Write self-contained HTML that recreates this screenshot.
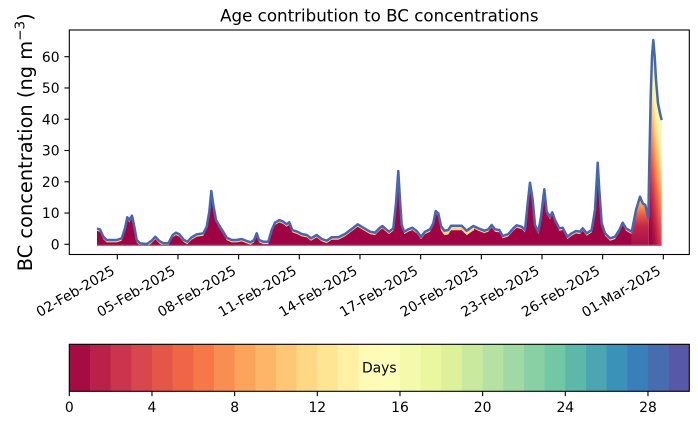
<!DOCTYPE html>
<html><head><meta charset="utf-8"><style>html,body{margin:0;padding:0;background:#fff;}svg{display:block;}</style></head>
<body>
<svg width="698" height="425" viewBox="0 0 698 425" xmlns="http://www.w3.org/2000/svg" font-family="'DejaVu Sans','Liberation Sans',sans-serif">
<defs>
<clipPath id="ca"><path d="M97,228.5 L100,229.5 L103.3,236.7 L106.7,240 L116.7,240 L121.7,238.3 L125,228.3 L127.3,217.3 L129.3,220 L132,215.7 L134,225 L136.7,240 L140,243.3 L146.7,244 L151.7,240.7 L155.3,236.7 L159,240.7 L163.3,243.3 L168.3,243.3 L172.7,235 L176,232.7 L179.3,234.3 L184,240 L187.3,241.7 L191.7,237.3 L196.7,234.3 L203.3,233.3 L206.7,226.7 L209.3,211.7 L211.3,191 L213.3,205 L216,220 L219.3,225.7 L222.7,231 L226.7,237.7 L231.7,240 L236.7,240 L241.7,239 L246.7,241 L250.7,242.3 L254,240 L256.7,233.3 L259,240 L263.3,241.7 L268.3,241.7 L271.7,230 L275,222.7 L279.3,220 L283.3,221.7 L286.7,224.3 L289.3,222.3 L292.3,230 L297.3,231.7 L301.7,234 L306.7,235 L311,238.3 L316.7,235 L321.7,239 L326.7,240.7 L331.7,237.3 L338.3,237.3 L345,234 L351.7,229 L357.7,224.3 L363.3,227.7 L370,231.7 L375,232.7 L379.3,228.3 L382.3,226 L385,228.3 L389,231.7 L393.3,228.3 L396,203.3 L398.3,171 L400,200 L401.7,225 L404.3,231.7 L408.3,229.3 L412.3,227.7 L416.7,231 L421,236.7 L425,231.7 L430,229.3 L433.3,223.3 L435.7,211 L438.3,213.3 L441,226 L444.3,230.7 L448.3,230 L451,225.7 L456.7,225.7 L461.7,225.7 L466.7,230.7 L473.3,226 L478.3,228.3 L484.3,230.7 L488.3,229.3 L491.7,225 L495,229.3 L499.3,230 L502.7,236 L508.3,234 L513.3,228.3 L516.7,225.3 L521.7,226.7 L525,230 L527.7,203.3 L530,182.7 L532.7,200 L535,225 L538.3,231.7 L541,216.7 L544.3,189.3 L546.7,211.7 L550,216.7 L552.3,212.3 L555,220 L559.3,228.3 L562.7,227.7 L567.3,236.7 L571.7,233.3 L576,231 L580,231.7 L582.7,228.3 L586.7,233.3 L591.7,230 L595,210 L597.7,162.7 L599.3,190 L601.7,223.3 L605,233.3 L610,238.3 L615,236.7 L619.3,230 L622.7,222.7 L626,228.3 L631.7,231.7 L636,210 L640,196.7 L642.7,203.3 L645.3,205 L648.3,218.3 L649.3,163.3 L650.7,96.7 L652,56.7 L653.3,40 L654.7,56.7 L656,80 L658,103.3 L660,113.3 L661.7,120 L661.7,245 L97,245 Z"/></clipPath>
<clipPath id="rn"><rect x="90" y="0" width="350" height="300"/><rect x="474" y="0" width="158" height="300"/></clipPath>
<clipPath id="rw"><rect x="440" y="0" width="34" height="300"/></clipPath>
<linearGradient id="gb" gradientUnits="userSpaceOnUse" x1="0" y1="245" x2="0" y2="197">
<stop offset="0" stop-color="#a80f46"/><stop offset="0.4" stop-color="#c32849"/><stop offset="0.65" stop-color="#ec6444"/><stop offset="0.85" stop-color="#fba85e"/><stop offset="1" stop-color="#fee08f"/>
</linearGradient>
<linearGradient id="gs" gradientUnits="userSpaceOnUse" x1="650" y1="235" x2="671.9" y2="232.1">
<stop offset="0" stop-color="#9e0142"/><stop offset="0.2" stop-color="#b01446"/><stop offset="0.38" stop-color="#d0354d"/><stop offset="0.55" stop-color="#ee6445"/><stop offset="0.7" stop-color="#fa9856"/><stop offset="0.85" stop-color="#fdcf7c"/><stop offset="1" stop-color="#f5f7b0"/>
</linearGradient>
<path id="ar" d="M97,228.5 L100,229.5 L103.3,236.7 L106.7,240 L116.7,240 L121.7,238.3 L125,228.3 L127.3,217.3 L129.3,220 L132,215.7 L134,225 L136.7,240 L140,243.3 L146.7,244 L151.7,240.7 L155.3,236.7 L159,240.7 L163.3,243.3 L168.3,243.3 L172.7,235 L176,232.7 L179.3,234.3 L184,240 L187.3,241.7 L191.7,237.3 L196.7,234.3 L203.3,233.3 L206.7,226.7 L209.3,211.7 L211.3,191 L213.3,205 L216,220 L219.3,225.7 L222.7,231 L226.7,237.7 L231.7,240 L236.7,240 L241.7,239 L246.7,241 L250.7,242.3 L254,240 L256.7,233.3 L259,240 L263.3,241.7 L268.3,241.7 L271.7,230 L275,222.7 L279.3,220 L283.3,221.7 L286.7,224.3 L289.3,222.3 L292.3,230 L297.3,231.7 L301.7,234 L306.7,235 L311,238.3 L316.7,235 L321.7,239 L326.7,240.7 L331.7,237.3 L338.3,237.3 L345,234 L351.7,229 L357.7,224.3 L363.3,227.7 L370,231.7 L375,232.7 L379.3,228.3 L382.3,226 L385,228.3 L389,231.7 L393.3,228.3 L396,203.3 L398.3,171 L400,200 L401.7,225 L404.3,231.7 L408.3,229.3 L412.3,227.7 L416.7,231 L421,236.7 L425,231.7 L430,229.3 L433.3,223.3 L435.7,211 L438.3,213.3 L441,226 L444.3,230.7 L448.3,230 L451,225.7 L456.7,225.7 L461.7,225.7 L466.7,230.7 L473.3,226 L478.3,228.3 L484.3,230.7 L488.3,229.3 L491.7,225 L495,229.3 L499.3,230 L502.7,236 L508.3,234 L513.3,228.3 L516.7,225.3 L521.7,226.7 L525,230 L527.7,203.3 L530,182.7 L532.7,200 L535,225 L538.3,231.7 L541,216.7 L544.3,189.3 L546.7,211.7 L550,216.7 L552.3,212.3 L555,220 L559.3,228.3 L562.7,227.7 L567.3,236.7 L571.7,233.3 L576,231 L580,231.7 L582.7,228.3 L586.7,233.3 L591.7,230 L595,210 L597.7,162.7 L599.3,190 L601.7,223.3 L605,233.3 L610,238.3 L615,236.7 L619.3,230 L622.7,222.7 L626,228.3 L631.7,231.7 L636,210 L640,196.7 L642.7,203.3 L645.3,205 L648.3,218.3 L649.3,163.3 L650.7,96.7 L652,56.7 L653.3,40 L654.7,56.7 L656,80 L658,103.3 L660,113.3 L661.7,120 L661.7,250 L97,250 Z"/>
</defs>
<rect x="0" y="0" width="698" height="425" fill="#fff"/>

<g clip-path="url(#ca)">
  <rect x="95" y="30" width="540" height="220" fill="#fdd587"/>
  <use href="#ar" fill="#a00343" transform="translate(0,2.4)" clip-path="url(#rn)"/>
  <use href="#ar" fill="#a00343" transform="translate(0,4.5)" clip-path="url(#rw)"/>
  <rect x="631.5" y="30" width="17.3" height="220" fill="url(#gb)"/>
  <rect x="648.8" y="30" width="14" height="220" fill="url(#gs)"/>
</g>
<line x1="97" y1="245.4" x2="661.7" y2="245.4" stroke="#cc5a82" stroke-width="1.2"/>
<path d="M97,228.5 L100,229.5 L103.3,236.7 L106.7,240 L116.7,240 L121.7,238.3 L125,228.3 L127.3,217.3 L129.3,220 L132,215.7 L134,225 L136.7,240 L140,243.3 L146.7,244 L151.7,240.7 L155.3,236.7 L159,240.7 L163.3,243.3 L168.3,243.3 L172.7,235 L176,232.7 L179.3,234.3 L184,240 L187.3,241.7 L191.7,237.3 L196.7,234.3 L203.3,233.3 L206.7,226.7 L209.3,211.7 L211.3,191 L213.3,205 L216,220 L219.3,225.7 L222.7,231 L226.7,237.7 L231.7,240 L236.7,240 L241.7,239 L246.7,241 L250.7,242.3 L254,240 L256.7,233.3 L259,240 L263.3,241.7 L268.3,241.7 L271.7,230 L275,222.7 L279.3,220 L283.3,221.7 L286.7,224.3 L289.3,222.3 L292.3,230 L297.3,231.7 L301.7,234 L306.7,235 L311,238.3 L316.7,235 L321.7,239 L326.7,240.7 L331.7,237.3 L338.3,237.3 L345,234 L351.7,229 L357.7,224.3 L363.3,227.7 L370,231.7 L375,232.7 L379.3,228.3 L382.3,226 L385,228.3 L389,231.7 L393.3,228.3 L396,203.3 L398.3,171 L400,200 L401.7,225 L404.3,231.7 L408.3,229.3 L412.3,227.7 L416.7,231 L421,236.7 L425,231.7 L430,229.3 L433.3,223.3 L435.7,211 L438.3,213.3 L441,226 L444.3,230.7 L448.3,230 L451,225.7 L456.7,225.7 L461.7,225.7 L466.7,230.7 L473.3,226 L478.3,228.3 L484.3,230.7 L488.3,229.3 L491.7,225 L495,229.3 L499.3,230 L502.7,236 L508.3,234 L513.3,228.3 L516.7,225.3 L521.7,226.7 L525,230 L527.7,203.3 L530,182.7 L532.7,200 L535,225 L538.3,231.7 L541,216.7 L544.3,189.3 L546.7,211.7 L550,216.7 L552.3,212.3 L555,220 L559.3,228.3 L562.7,227.7 L567.3,236.7 L571.7,233.3 L576,231 L580,231.7 L582.7,228.3 L586.7,233.3 L591.7,230 L595,210 L597.7,162.7 L599.3,190 L601.7,223.3 L605,233.3 L610,238.3 L615,236.7 L619.3,230 L622.7,222.7 L626,228.3 L631.7,231.7 L636,210 L640,196.7 L642.7,203.3 L645.3,205 L648.3,218.3 L649.3,163.3 L650.7,96.7 L652,56.7 L653.3,40 L654.7,56.7 L656,80 L658,103.3 L660,113.3 L661.7,120" fill="none" stroke="#4866ad" stroke-width="2.5" stroke-linejoin="round" stroke-linecap="butt"/>

<rect x="69.3" y="30" width="620" height="224.5" fill="none" stroke="#000" stroke-width="1.1"/>

<g stroke="#000" stroke-width="1.1">
<line x1="64.4" y1="244.3" x2="69.3" y2="244.3"/>
<line x1="64.4" y1="213.03" x2="69.3" y2="213.03"/>
<line x1="64.4" y1="181.77" x2="69.3" y2="181.77"/>
<line x1="64.4" y1="150.5" x2="69.3" y2="150.5"/>
<line x1="64.4" y1="119.23" x2="69.3" y2="119.23"/>
<line x1="64.4" y1="87.97" x2="69.3" y2="87.97"/>
<line x1="64.4" y1="56.7" x2="69.3" y2="56.7"/>
</g>
<g font-size="13.9" text-anchor="end" fill="#000">
<text x="59.6" y="249.4">0</text>
<text x="59.6" y="218.1">10</text>
<text x="59.6" y="186.9">20</text>
<text x="59.6" y="155.6">30</text>
<text x="59.6" y="124.3">40</text>
<text x="59.6" y="93.1">50</text>
<text x="59.6" y="61.8">60</text>
</g>

<g stroke="#000" stroke-width="1.1">
<line x1="117.3" y1="254.5" x2="117.3" y2="259.4"/>
<line x1="177.97" y1="254.5" x2="177.97" y2="259.4"/>
<line x1="238.64" y1="254.5" x2="238.64" y2="259.4"/>
<line x1="299.31" y1="254.5" x2="299.31" y2="259.4"/>
<line x1="359.98" y1="254.5" x2="359.98" y2="259.4"/>
<line x1="420.65" y1="254.5" x2="420.65" y2="259.4"/>
<line x1="481.32" y1="254.5" x2="481.32" y2="259.4"/>
<line x1="541.99" y1="254.5" x2="541.99" y2="259.4"/>
<line x1="602.66" y1="254.5" x2="602.66" y2="259.4"/>
<line x1="663.33" y1="254.5" x2="663.33" y2="259.4"/>
</g>
<g font-size="13.9" text-anchor="end" fill="#000">
<text transform="translate(115.7,273.4) rotate(-30)">02-Feb-2025</text>
<text transform="translate(176.37,273.4) rotate(-30)">05-Feb-2025</text>
<text transform="translate(237.04,273.4) rotate(-30)">08-Feb-2025</text>
<text transform="translate(297.71,273.4) rotate(-30)">11-Feb-2025</text>
<text transform="translate(358.38,273.4) rotate(-30)">14-Feb-2025</text>
<text transform="translate(419.05,273.4) rotate(-30)">17-Feb-2025</text>
<text transform="translate(479.72,273.4) rotate(-30)">20-Feb-2025</text>
<text transform="translate(540.39,273.4) rotate(-30)">23-Feb-2025</text>
<text transform="translate(601.06,273.4) rotate(-30)">26-Feb-2025</text>
<text transform="translate(661.73,273.4) rotate(-30)">01-Mar-2025</text>
</g>

<text x="379.3" y="21.7" font-size="16.7" text-anchor="middle" fill="#000">Age contribution to BC concentrations</text>

<text transform="translate(31.8,142.25) rotate(-90)" font-size="19.4" text-anchor="middle" fill="#000">BC concentration (ng m<tspan font-size="13.6" dy="-7.5">−3</tspan><tspan dy="7.5">)</tspan></text>

<g>
<rect x="69.3" y="344.3" width="21" height="47" fill="#a70b44"/>
<rect x="89.97" y="344.3" width="21" height="47" fill="#ba2049"/>
<rect x="110.63" y="344.3" width="21" height="47" fill="#cc344d"/>
<rect x="131.3" y="344.3" width="21" height="47" fill="#da464d"/>
<rect x="151.97" y="344.3" width="21" height="47" fill="#e55649"/>
<rect x="172.63" y="344.3" width="21" height="47" fill="#ef6545"/>
<rect x="193.3" y="344.3" width="21" height="47" fill="#f67848"/>
<rect x="213.97" y="344.3" width="21" height="47" fill="#f98e52"/>
<rect x="234.63" y="344.3" width="21" height="47" fill="#fca35c"/>
<rect x="255.3" y="344.3" width="21" height="47" fill="#fdb668"/>
<rect x="275.97" y="344.3" width="21" height="47" fill="#fec776"/>
<rect x="296.63" y="344.3" width="21" height="47" fill="#fed884"/>
<rect x="317.3" y="344.3" width="21" height="47" fill="#fee594"/>
<rect x="337.97" y="344.3" width="21" height="47" fill="#fff0a5"/>
<rect x="358.63" y="344.3" width="21" height="47" fill="#fffab6"/>
<rect x="379.3" y="344.3" width="21" height="47" fill="#fbfdb9"/>
<rect x="399.97" y="344.3" width="21" height="47" fill="#f3faac"/>
<rect x="420.63" y="344.3" width="21" height="47" fill="#eaf79f"/>
<rect x="441.3" y="344.3" width="21" height="47" fill="#dcf19a"/>
<rect x="461.97" y="344.3" width="21" height="47" fill="#c9e99e"/>
<rect x="482.63" y="344.3" width="21" height="47" fill="#b5e1a2"/>
<rect x="503.3" y="344.3" width="21" height="47" fill="#a0d9a4"/>
<rect x="523.97" y="344.3" width="21" height="47" fill="#89d0a5"/>
<rect x="544.63" y="344.3" width="21" height="47" fill="#72c7a5"/>
<rect x="565.3" y="344.3" width="21" height="47" fill="#5db8a9"/>
<rect x="585.97" y="344.3" width="21" height="47" fill="#4ca5b1"/>
<rect x="606.63" y="344.3" width="21" height="47" fill="#3b92b9"/>
<rect x="627.3" y="344.3" width="21" height="47" fill="#397fb9"/>
<rect x="647.97" y="344.3" width="21" height="47" fill="#486cb0"/>
<rect x="668.63" y="344.3" width="20.67" height="47" fill="#5758a7"/>
</g>
<rect x="69.3" y="344.3" width="620" height="47" fill="none" stroke="#000" stroke-width="1.1"/>
<text x="379.3" y="372.5" font-size="13.9" text-anchor="middle" fill="#000">Days</text>
<g stroke="#000" stroke-width="1.1">
<line x1="69.3" y1="391.3" x2="69.3" y2="396.2"/>
<line x1="151.97" y1="391.3" x2="151.97" y2="396.2"/>
<line x1="234.63" y1="391.3" x2="234.63" y2="396.2"/>
<line x1="317.3" y1="391.3" x2="317.3" y2="396.2"/>
<line x1="399.97" y1="391.3" x2="399.97" y2="396.2"/>
<line x1="482.63" y1="391.3" x2="482.63" y2="396.2"/>
<line x1="565.3" y1="391.3" x2="565.3" y2="396.2"/>
<line x1="647.97" y1="391.3" x2="647.97" y2="396.2"/>
</g>
<g font-size="13.9" text-anchor="middle" fill="#000">
<text x="69.3" y="412">0</text>
<text x="151.97" y="412">4</text>
<text x="234.63" y="412">8</text>
<text x="317.3" y="412">12</text>
<text x="399.97" y="412">16</text>
<text x="482.63" y="412">20</text>
<text x="565.3" y="412">24</text>
<text x="647.97" y="412">28</text>
</g>
</svg>
</body></html>
